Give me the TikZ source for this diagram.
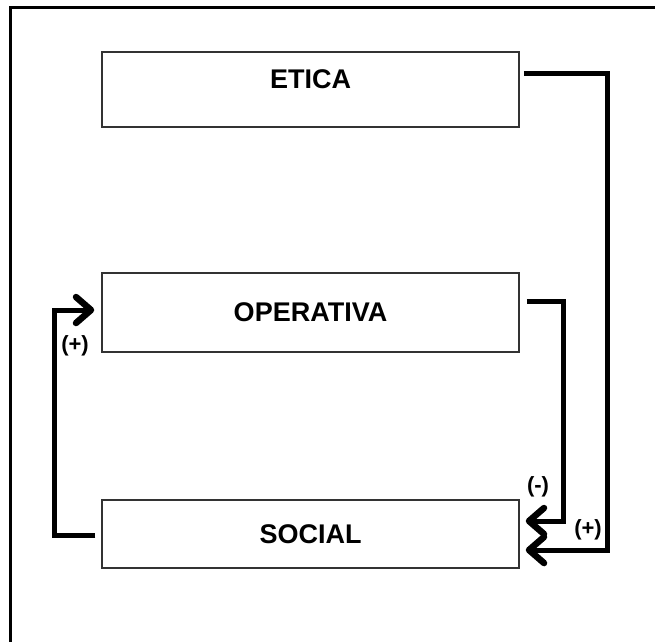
\documentclass[tikz,border=0pt]{standalone}
\usepackage{fontspec}
\setmainfont{Liberation Sans}
\usetikzlibrary{arrows.meta,calc}
\begin{document}
\begin{tikzpicture}[x=1pt,y=-1pt,
  box/.style={draw=black!80, line width=1.5pt, minimum width=417pt, inner sep=0pt,
    font=\bfseries\fontsize{27}{30}\selectfont},
  flow/.style={line width=5pt, line join=miter, line cap=butt},
  tip/.style={-{Straight Barb[length=15pt,width=26pt,line width=6.5pt,round]}},
  sign/.style={font=\bfseries\fontsize{22}{24}\selectfont, inner sep=0pt}]
\useasboundingbox (0,0) rectangle (655,641);
\begin{scope}
\clip (0,0) rectangle (655,641);
\draw[line width=3pt] (10.5,650) -- (10.5,7.5) -- (660,7.5);
\end{scope}
\node[box, minimum height=75pt] (etica) at (310.5,89.5) {\raisebox{20pt}{ETICA}};
\node[box, minimum height=79pt] (operativa) at (310.5,312.5) {OPERATIVA};
\node[box, minimum height=68pt] (social) at (310.5,534) {SOCIAL};
\draw[flow,tip] ($(etica.east)+(4,-16.5)$) -- ++(84,0) |- ($(social.east)+(6,16)$);
\draw[flow,tip] ($(operativa.east)+(7,-11.5)$) -- ++(37,0) |- ($(social.east)+(6,-13)$);
\draw[flow,tip] ($(social.west)+(-6,1)$) -- ++(-41,0) |- ($(operativa.west)+(-7,-2.5)$);
\node[sign] (lp) at (75,346) {(+)};
\node[sign] (lm) at (538,487) {(-)};
\node[sign] (rp) at (588,530) {(+)};
\end{tikzpicture}
\end{document}
